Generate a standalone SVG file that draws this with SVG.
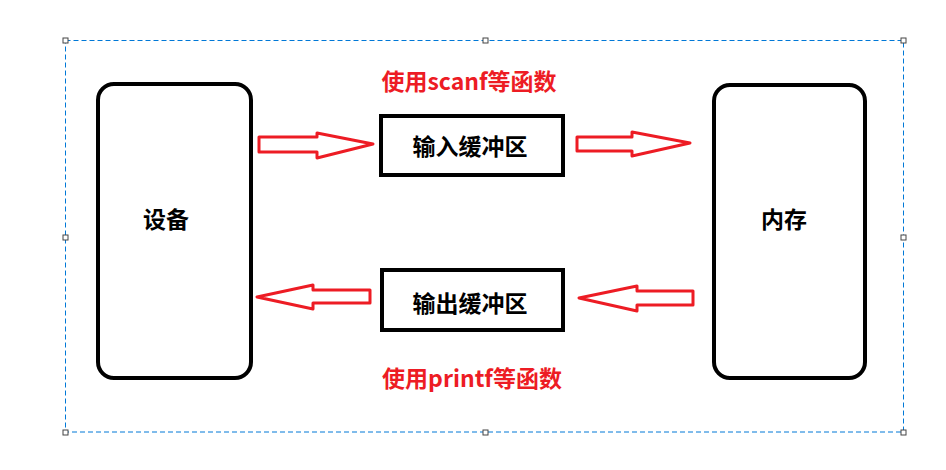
<svg xmlns="http://www.w3.org/2000/svg" width="946" height="470" viewBox="0 0 946 470">
<style>
.bg{fill:#fff}
.sel{fill:none;stroke:#0078d7;stroke-width:1;stroke-dasharray:5 3}
.h{fill:#fff;stroke:#444;stroke-width:1}
.node{fill:#fff;stroke:#000;stroke-width:4}
.arr{fill:none;stroke:#ed1c24;stroke-width:3;stroke-linejoin:round}
.t{font-family:"Noto Sans CJK SC","Noto Sans",sans-serif;font-weight:bold;font-size:23px;text-anchor:middle;dominant-baseline:central}
.blk{fill:#000}
.red{fill:#ed1c24}
</style>
<rect class="bg" x="0" y="0" width="946" height="470"/>
<g id="selection">
<rect class="sel" x="65.5" y="40.5" width="838" height="391.5"/>
<rect class="h" x="63" y="38" width="5" height="5"/>
<rect class="h" x="483" y="38" width="5" height="5"/>
<rect class="h" x="901" y="38" width="5" height="5"/>
<rect class="h" x="63" y="235" width="5" height="5"/>
<rect class="h" x="901" y="235" width="5" height="5"/>
<rect class="h" x="63" y="430" width="5" height="5"/>
<rect class="h" x="483" y="430" width="5" height="5"/>
<rect class="h" x="901" y="430" width="5" height="5"/>
</g>
<g id="device">
<rect class="node" x="98" y="84" width="153" height="294" rx="16"/>
<text class="t blk" x="166" y="218">设备</text>
</g>
<g id="memory">
<rect class="node" x="714" y="85" width="151" height="293" rx="16"/>
<text class="t blk" x="784" y="218">内存</text>
</g>
<g id="input-buffer">
<rect class="node" x="381" y="116" width="182" height="59"/>
<text class="t blk" x="470" y="145">输入缓冲区</text>
</g>
<g id="output-buffer">
<rect class="node" x="382" y="270" width="181" height="60"/>
<text class="t blk" x="470" y="302">输出缓冲区</text>
</g>
<g id="labels">
<text class="t red" x="469" y="80">使用scanf等函数</text>
<text class="t red" x="472" y="377">使用printf等函数</text>
</g>
<g id="connectors">
<polygon class="arr" points="259,137 317,137 317,133 373,144 317,158 317,152 259,152"/>
<polygon class="arr" points="577,137 632,137 632,132 690,143 632,156 632,151 577,151"/>
<polygon class="arr" points="370,290 313,290 313,285 257,297 313,309 313,303 370,303"/>
<polygon class="arr" points="693,291 637,291 637,286 579,298 637,311 637,305 693,305"/>
</g>
</svg>
